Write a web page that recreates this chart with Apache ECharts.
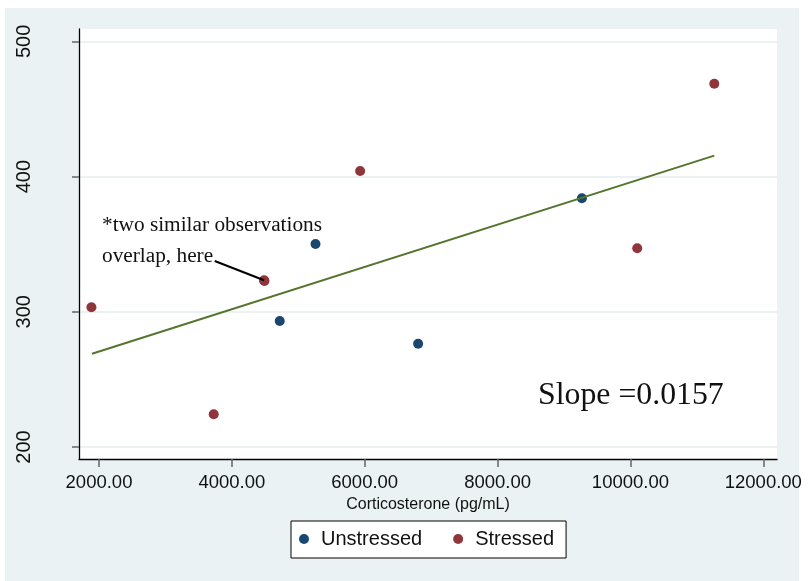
<!DOCTYPE html>
<html>
<head>
<meta charset="utf-8">
<script src="https://cdn.jsdelivr.net/npm/echarts@6/dist/echarts.min.js"></script>
<style>
  html, body { margin: 0; padding: 0; background: #fff; }
  #chart { width: 809px; height: 581px; }
</style>
</head>
<body>
<div id="chart"></div>
<script>
// corticosterone (pg/mL) vs response, two groups
const unstressedX = [4721, 5259, 6804, 9269];
const unstressedY = [293.2, 350.1, 276.4, 384.0];
const stressedX = [1886, 3727, 4485, 4490, 5931, 10102, 11262];
const stressedY = [303.3, 224.2, 323.3, 322.8, 404.1, 347.0, 468.7];
// ends of the fitted line
const fitX = [1895, 11262];
const fitY = [269.0, 415.5];

const xTicks = [2000, 4000, 6000, 8000, 10000, 12000];
const yTicks = [200, 300, 400, 500];

const slopeText = 'Slope =0.0157';
const noteLines = ['*two similar observations', 'overlap, here'];

const zip = (xs, ys) => xs.map((x, i) => [x, ys[i]]);

const chart = echarts.init(document.getElementById('chart'));

const sans = 'Liberation Sans, Arial, sans-serif';
const serif = 'Liberation Serif, Times New Roman, serif';

chart.setOption({
  animation: false,
  backgroundColor: '#fff',
  graphic: [
    {
      type: 'rect',
      z: -10,
      silent: true,
      shape: { x: 5, y: 8, width: 794, height: 573 },
      style: { fill: '#eaf2f3' },
    },
    {
      type: 'text',
      left: 102,
      top: 210,
      z: 10,
      style: {
        text: noteLines.join('\n'),
        font: '21.3px ' + serif,
        fill: '#111',
        lineHeight: 31,
      },
    },
    {
      type: 'text',
      left: 538,
      top: 380,
      z: 10,
      style: {
        text: slopeText,
        font: '31.8px ' + serif,
        fill: '#111',
      },
    },
  ],
  grid: {
    left: 79,
    right: 32,
    top: 29,
    bottom: 122,
    show: true,
    backgroundColor: '#fff',
    borderWidth: 0,
  },
  legend: {
    left: 291,
    top: 521,
    orient: 'horizontal',
    backgroundColor: '#fff',
    borderColor: '#000',
    borderWidth: 1,
    borderRadius: 0,
    padding: [8, 12, 9, 8],
    itemGap: 31,
    itemWidth: 10,
    itemHeight: 10,
    icon: 'circle',
    data: ['Unstressed', 'Stressed'],
    textStyle: {
      fontFamily: sans,
      fontSize: 20,
      color: '#111',
      padding: [0, 0, 0, 7],
    },
  },
  xAxis: {
    type: 'value',
    min: 1699,
    max: 12206,
    name: 'Corticosterone (pg/mL)',
    nameLocation: 'middle',
    nameGap: 37,
    nameTextStyle: { fontFamily: sans, fontSize: 16, color: '#111' },
    axisLine: { show: true, onZero: false, lineStyle: { color: '#000', width: 1.3 } },
    axisTick: {
      show: true,
      length: 8,
      customValues: xTicks,
      lineStyle: { color: '#666', width: 1.5 },
    },
    axisLabel: {
      customValues: xTicks,
      margin: 14,
      fontFamily: sans,
      fontSize: 18.5,
      color: '#111',
      formatter: (v) => v.toFixed(2),
    },
    splitLine: { show: false },
  },
  yAxis: {
    type: 'value',
    min: 191.1,
    max: 509.2,
    axisLine: { show: true, onZero: false, lineStyle: { color: '#000', width: 1.3 } },
    axisTick: {
      show: true,
      length: 7,
      customValues: yTicks,
      lineStyle: { color: '#666', width: 1.5 },
    },
    axisLabel: {
      customValues: yTicks,
      rotate: 90,
      margin: 45,
      fontFamily: sans,
      fontSize: 20,
      color: '#111',
    },
    splitLine: { show: true, lineStyle: { color: '#e6eef0', width: 1.6 } },
  },
  series: [
    {
      name: 'Unstressed',
      type: 'scatter',
      symbol: 'circle',
      symbolSize: 10,
      itemStyle: { color: '#1a476f', opacity: 1 },
      data: zip(unstressedX, unstressedY),
    },
    {
      name: 'Stressed',
      type: 'scatter',
      symbol: 'circle',
      symbolSize: 10,
      itemStyle: { color: '#90353b', opacity: 1 },
      data: zip(stressedX, stressedY),
      markLine: {
        silent: true,
        symbol: ['none', 'none'],
        label: { show: false },
        lineStyle: { color: '#000', width: 2, type: 'solid' },
        data: [[{ coord: [3742, 337.6] }, { coord: [stressedX[2], stressedY[2]] }]],
      },
    },
    {
      name: 'fit',
      type: 'line',
      symbol: 'none',
      lineStyle: { color: '#55752f', width: 2 },
      data: zip(fitX, fitY),
      z: 3,
    },
  ],
});
</script>
</body>
</html>
